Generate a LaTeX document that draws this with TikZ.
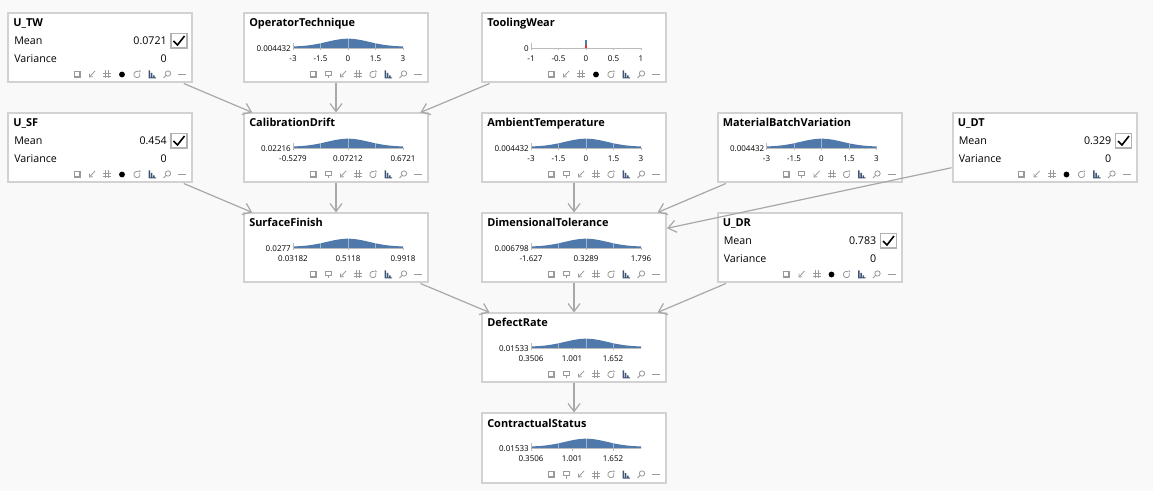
\documentclass[tikz,border=0pt]{standalone}
\usepackage{fontspec}
\setmainfont{Open Sans}
\usetikzlibrary{arrows.meta}

\definecolor{bgcol}{HTML}{F9F9F9}
\definecolor{boxcol}{HTML}{D2D2D2}
\definecolor{edgecol}{HTML}{A8A8A8}
\definecolor{curvecol}{HTML}{4F79AB}
\definecolor{icocol}{HTML}{9A9A9A}
\definecolor{barcol}{HTML}{405575}
\definecolor{axcol}{HTML}{BBBBBB}
\definecolor{spikered}{HTML}{E0302F}

\tikzset{
  card/.style={draw=boxcol, line width=1.5pt, fill=white, minimum width=138pt, minimum height=51.75pt, inner sep=0pt},
  edge/.style={draw=edgecol, line width=0.9pt, -{Straight Barb[length=6pt,width=9pt]}},
  title/.style={anchor=base west, inner sep=0pt, font=\fontsize{8.2}{10}\selectfont\bfseries},
  txt/.style={anchor=base west, inner sep=0pt, font=\fontsize{8}{10}\selectfont},
  tick/.style={anchor=base, inner sep=0pt, font=\fontsize{6}{7}\selectfont},
  ico/.style={draw=icocol, line width=0.6pt},
}

% small tool icons, #1 = x centre inside the card
\newcommand{\icosq}[1]{\fill[icocol] ({#1-3.5},58.5) rectangle ({#1+3.5},65.5); \fill[white] ({#1-2.5},59.5) rectangle ({#1+1.8},63.8);}
\newcommand{\icopin}[1]{\draw[ico] ({#1-3},58.5) rectangle ({#1+3},63); \draw[ico] ({#1},63) -- ({#1},66);}
\newcommand{\icoarr}[1]{\draw[ico,-{Straight Barb[length=2pt,width=3.5pt]}] ({#1+3},58.5) -- ({#1-3},65);}
\newcommand{\icogrid}[1]{\draw[ico] ({#1-1.5},58) -- ({#1-1.5},66) ({#1+1.5},58) -- ({#1+1.5},66) ({#1-4},60.5) -- ({#1+4},60.5) ({#1-4},63.5) -- ({#1+4},63.5);}
\newcommand{\icodot}[1]{\fill[black] ({#1},62) circle (2.2pt);}
\newcommand{\icoref}[1]{\draw[ico] ({#1},62) ++(60:2.4pt) arc[start angle=60,end angle=390,radius=2.4pt]; \draw[ico] ({#1+2},58) -- ({#1+3.5},59.5);}
\newcommand{\icobars}[1]{\fill[barcol] ({#1-3.5},66) rectangle ({#1-2},58) ({#1-1.2},66) rectangle ({#1+0.3},60.5) ({#1+1.1},66) rectangle ({#1+2.6},63) ({#1-3.5},66) rectangle ({#1+4},65);}
\newcommand{\icozoom}[1]{\draw[ico] ({#1+1},61) circle (2pt); \draw[ico] ({#1-1},63) -- ({#1-3.5},65.5);}
\newcommand{\icomin}[1]{\draw[ico] ({#1-4},62) -- ({#1+4},62);}

\newcommand{\icorow}[2]{%
  \begin{scope}[shift={(#1.north west)}]
    \foreach \k [count=\i] in {#2} {\csname ico\k\endcsname{55+15*\i}}
  \end{scope}}

% card with a density plot: #1 node, #2 title, #3 value, #4 ticks
\newcommand{\gausscard}[4]{%
  \begin{scope}[shift={(#1.north west)}]
    \node[title] (#1-t) at (6,14.5) {#2};
    \fill[curvecol] (50,36) -- plot[domain=50:160,samples=45,smooth] (\x,{36-1.8-8*exp(-0.5*((\x-105)/21)*((\x-105)/21))}) -- (160,36) -- cycle;
    \foreach \p in {77.5,105,132.5} \draw[white,opacity=0.45,line width=0.4pt] (\p,36) -- (\p,25);
    \draw[axcol,line width=0.6pt] (50,36) -- (160,36) (50,31) -- (50,37.5);
    \node[tick,anchor=base east] (#1-v) at (48,39) {#3};
    \foreach \p/\t in {#4} {\draw[axcol,line width=0.6pt] (\p,36) -- (\p,38); \node[tick] at (\p,49) {\t};}
  \end{scope}
  \icorow{#1}{sq,pin,arr,grid,ref,bars,zoom,min}}

% card with mean and variance: #1 node, #2 title, #3 mean
\newcommand{\meancard}[3]{%
  \begin{scope}[shift={(#1.north west)}]
    \node[title] (#1-t) at (6,14.5) {#2};
    \node[txt] (#1-m) at (7,32) {Mean};
    \node[txt] (#1-va) at (7,50) {Variance};
    \node[txt,anchor=base east] (#1-mv) at (160,32) {#3};
    \node[txt,anchor=base east] (#1-vv) at (160,50) {0};
    \draw[boxcol!85!black,line width=1.3pt,fill=white] (164,21) rectangle (180,35.5);
    \draw[black,line width=1.2pt] (166.5,28.5) -- (170.5,32.5) -- (177.5,23.5);
  \end{scope}
  \icorow{#1}{sq,arr,grid,dot,ref,bars,zoom,min}}

\begin{document}
\begin{tikzpicture}[x=0.75pt,y=-0.75pt]
  \fill[bgcol] (0,0) rectangle (1153,491);
  \useasboundingbox (0,0) rectangle (1153,491);

  % cards
  \node[card] (utw) at (100,48) {};
  \node[card] (opt) at (336,48) {};
  \node[card] (tw) at (574,48) {};
  \node[card] (usf) at (100,148) {};
  \node[card] (cd) at (336,148) {};
  \node[card] (amb) at (574,148) {};
  \node[card] (mbv) at (809.5,148) {};
  \node[card] (udt) at (1044.5,148) {};
  \node[card] (sf) at (336,248) {};
  \node[card] (dt) at (574,248) {};
  \node[card] (udr) at (809.5,248) {};
  \node[card] (dr) at (574,348) {};
  \node[card] (cs) at (574,448) {};

  % links
  \draw[edge] (utw) -- (cd);
  \draw[edge] (opt) -- (cd);
  \draw[edge] (tw) -- (cd);
  \draw[edge] (usf) -- (sf);
  \draw[edge] (cd) -- (sf);
  \draw[edge] (amb) -- (dt);
  \draw[edge] (mbv) -- (dt);
  \draw[edge] (udt) -- (dt);
  \draw[edge] (sf) -- (dr);
  \draw[edge] (dt) -- (dr);
  \draw[edge] (udr) -- (dr);
  \draw[edge] (dr) -- (cs);

  % contents
  \meancard{utw}{U\_TW}{0.0721}
  \meancard{usf}{U\_SF}{0.454}
  \meancard{udt}{U\_DT}{0.329}
  \meancard{udr}{U\_DR}{0.783}
  \gausscard{opt}{OperatorTechnique}{0.004432}{50/-3,77.5/-1.5,105/0,132.5/1.5,160/3}
  \gausscard{cd}{CalibrationDrift}{0.02216}{50/-0.5279,105/0.07212,160/0.6721}
  \gausscard{amb}{AmbientTemperature}{0.004432}{50/-3,77.5/-1.5,105/0,132.5/1.5,160/3}
  \gausscard{mbv}{MaterialBatchVariation}{0.004432}{50/-3,77.5/-1.5,105/0,132.5/1.5,160/3}
  \gausscard{sf}{SurfaceFinish}{0.0277}{50/0.03182,105/0.5118,160/0.9918}
  \gausscard{dt}{DimensionalTolerance}{0.006798}{50/-1.627,105/0.3289,160/1.796}
  \gausscard{dr}{DefectRate}{0.01533}{50/0.3506,91/1.001,132/1.652}
  \gausscard{cs}{ContractualStatus}{0.01533}{50/0.3506,91/1.001,132/1.652}

  % tooling wear: a single spike at zero
  \begin{scope}[shift={(tw.north west)}]
    \node[title] (tw-t) at (6,14.5) {ToolingWear};
    \draw[axcol,line width=0.6pt] (50,36) -- (160,36) (50,31) -- (50,37.5);
    \node[tick,anchor=base east] (tw-v) at (48,39) {0};
    \foreach \p/\t in {50/-1,77.5/-0.5,105/0,132.5/0.5,160/1} {\draw[axcol,line width=0.6pt] (\p,36) -- (\p,38); \node[tick] at (\p,49) {\t};}
    \fill[curvecol] (104,28) rectangle (106,33);
    \fill[spikered] (104,33) rectangle (106,36);
  \end{scope}
  \icorow{tw}{sq,arr,grid,dot,ref,bars,zoom,min}
\end{tikzpicture}
\end{document}
